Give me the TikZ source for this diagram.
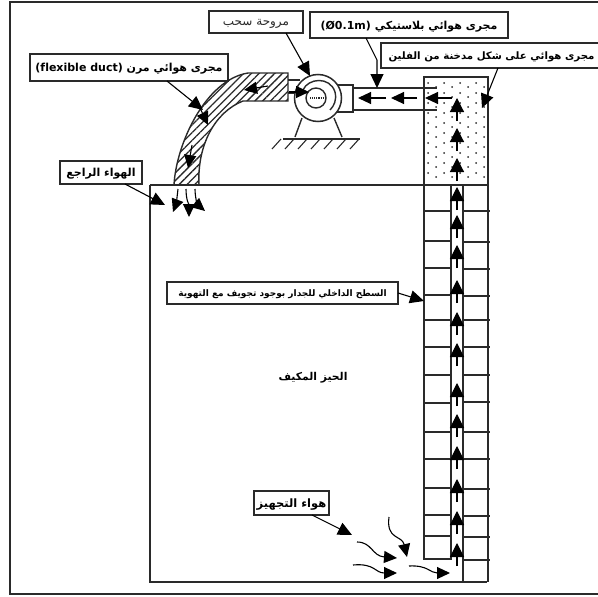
\documentclass[tikz,border=0pt]{standalone}
\usepackage{fontspec}
\setmainfont{Liberation Sans}
\newfontfamily\arabicfont[Script=Arabic]{DejaVu Sans}
\TeXXeTstate=1
\usetikzlibrary{arrows.meta, patterns.meta, positioning}
\definecolor{inkgray}{HTML}{2A2A2A}

\begin{document}
\begin{tikzpicture}[
    x=1pt,
    y=-1pt,
    wall/.style={draw=inkgray, line width=1.4pt},
    tick/.style={draw=inkgray, line width=1.1pt},
    labelbox/.style={rectangle, draw=inkgray, fill=white, line width=1.5pt, inner sep=0pt, align=center, text=black, text depth=0pt},
    pointer/.style={-{Triangle[length=14pt,width=13pt]}, line width=1.1pt, draw=black},
    flow/.style={-{Triangle[length=14pt,width=14pt]}, line width=1.2pt, draw=black},
    flowsmall/.style={-{Triangle[length=13pt,width=12pt]}, line width=1.1pt, draw=black}
]
\useasboundingbox (0,0) rectangle (598,597);
\node[rectangle, draw=inkgray, line width=1.6pt, minimum width=592pt, minimum height=592pt, inner sep=0pt] (frame) at (306,298) {};

% flexible duct and room
\draw[wall, pattern={Lines[angle=45, distance=5.5pt, line width=1.3pt]}, pattern color=inkgray]
    (174,185) .. controls (176,145) and (205,80) .. (248,73) -- (288,73) -- (288,101) -- (243,101)
    .. controls (215,112) and (197,145) .. (199,185) -- cycle;
\draw[wall] (150,185) -- (424,185);
\draw[wall] (150,185) -- (150,582) -- (487,582);

% foam chimney
\node[rectangle, draw=inkgray, line width=1.4pt, minimum width=64pt, minimum height=108pt, inner sep=0pt] (foam) at (456,131) {};
\foreach \col in {0,...,7} {
    \foreach \row in {0,...,9} {
        \fill[inkgray] ({428+\col*8}, {83+\row*10+mod(\col,2)*4}) circle (1pt);
    }
}

% wall layers
\draw[wall] (424,185) -- (424,559) -- (451,559) -- (451,185);
\draw[wall] (463,185) -- (463,582);
\draw[wall] (488,185) -- (488,582);
\foreach \yy in {211,241,268,295,320,347,375,403,432,459,488,515,536} {
    \draw[tick] (423,\yy) -- (451,\yy);
}
\foreach \yy in {211,242,269,296,320,347,375,402,432,459,489,516,537,560} {
    \draw[tick] (463,\yy) -- (490,\yy);
}

% fan
\draw[wall] (288,80) -- (300,80);
\draw[wall] (288,93) -- (300,93);
\draw[wall] (318,85) -- (353,85) -- (353,112) -- (318,112);
\draw[wall] (353,88) -- (437,88);
\draw[wall] (353,110) -- (437,110);
\node[circle, draw=inkgray, fill=white, line width=1.5pt, minimum size=47pt, inner sep=0pt] (fan) at (318,98) {};
\node[circle, draw=inkgray, line width=1.4pt, minimum size=20pt, inner sep=0pt] (hub) at (316,98) {};
\draw[wall] (303,90) .. controls (308,78) and (330,76) .. (335,92) .. controls (337,100) and (334,106) .. (330,110);
\draw[tick, densely dotted] (310,98) -- (325,98);
\draw[wall] (302,118) -- (295,137);
\draw[wall] (334,118) -- (342,137);
\draw[wall] (283,139) -- (360,139);
\foreach \xx in {272,285,...,350} {
    \draw[tick] (\xx+9,139) -- (\xx,149);
}

% air flow in the cavity
\coordinate (inletin) at (289,92);
\coordinate (inletout) at (309,92);
\draw[flowsmall] (inletin) -- (inletout);
\foreach \tip/\tail in {358/386, 391/417, 425/452} {
    \coordinate (ductin\tip) at (\tail,98);
    \coordinate (ductout\tip) at (\tip,98);
    \draw[flowsmall] (ductin\tip) -- (ductout\tip);
}
\foreach \yy in {98,128,158,187,215,245,280,312,343,383,414,446,479,511,543} {
    \coordinate (riseto\yy) at (457,\yy);
    \coordinate (risefrom\yy) at (457,\yy+23);
    \draw[flow] (risefrom\yy) -- (riseto\yy);
}

% air flow in flexible duct
\coordinate (flexa) at (268,86);
\coordinate (flexb) at (244,90);
\draw[flowsmall] (flexa) -- (flexb);
\coordinate (flexc) at (200,108);
\coordinate (flexd) at (208,125);
\draw[flowsmall] (flexc) -- (flexd);
\coordinate (flexe) at (192,145);
\coordinate (flexf) at (188,168);
\draw[flowsmall] (flexe) -- (flexf);

% return air
\coordinate (backa) at (178,189);
\coordinate (backb) at (173,212);
\coordinate (backc) at (186,189);
\coordinate (backd) at (189,217);
\coordinate (backe) at (195,189);
\coordinate (backf) at (205,211);
\draw[flowsmall] (backa) .. controls (177,198) and (176,204) .. (backb);
\draw[flowsmall] (backc) .. controls (186,200) and (189,205) .. (backd);
\draw[flowsmall] (backe) .. controls (195,198) and (198,205) .. (backf);

% supply air
\coordinate (supa) at (357,542);
\coordinate (supb) at (397,558);
\coordinate (supc) at (353,565);
\coordinate (supd) at (397,573);
\coordinate (supe) at (389,517);
\coordinate (supf) at (407,557);
\coordinate (supg) at (409,566);
\coordinate (suph) at (450,573);
\draw[flowsmall] (supa) .. controls (372,542) and (372,556) .. (supb);
\draw[flowsmall] (supc) .. controls (375,563) and (375,573) .. (supd);
\draw[flowsmall] (supe) .. controls (386,540) and (402,535) .. (supf);
\draw[flowsmall] (supg) .. controls (428,565) and (430,573) .. (suph);

% labels
\node[labelbox, minimum width=94pt, minimum height=22pt] (fanlabel) at (256,22)
    {\color{inkgray}\arabicfont\fontsize{12}{14}\selectfont\beginR مروحة سحب\endR};
\node[labelbox, minimum width=198pt, minimum height=26pt] (plasticlabel) at (409,25)
    {\arabicfont\bfseries\fontsize{11}{13}\selectfont\beginR مجرى هوائي بلاستيكي \beginL(Ø0.1m)\endL\endR};
\node[labelbox, minimum width=221pt, minimum height=25pt] (foamlabel) at (491.5,55.5)
    {\arabicfont\bfseries\fontsize{10.2}{12}\selectfont\beginR مجرى هوائي على شكل مدخنة من الفلين\endR};
\node[labelbox, minimum width=198pt, minimum height=27pt] (flexlabel) at (129,67.5)
    {\arabicfont\bfseries\fontsize{11}{13}\selectfont\beginR مجرى هوائي مرن \beginL(flexible duct)\endL\endR};
\node[labelbox, minimum width=82pt, minimum height=23pt] (returnlabel) at (101,172.5)
    {\arabicfont\bfseries\fontsize{11}{13}\selectfont\beginR الهواء الراجع\endR};
\node[labelbox, minimum width=231pt, minimum height=22pt] (surfacelabel) at (282.5,293)
    {\arabicfont\bfseries\fontsize{9}{11}\selectfont\beginR السطح الداخلي للجدار بوجود تجويف مع التهوية\endR};
\node[inner sep=0pt, text=black, text depth=0pt] (roomlabel) at (313,376)
    {\arabicfont\bfseries\fontsize{10.8}{13}\selectfont\beginR الحيز المكيف\endR};
\node[labelbox, minimum width=75pt, minimum height=24pt] (supplylabel) at (291.5,503)
    {\arabicfont\bfseries\fontsize{11.5}{13}\selectfont\beginR هواء التجهيز\endR};

% pointers
\coordinate (fantip) at (310,76);
\coordinate (plasticbend) at (377,60);
\coordinate (plastictip) at (377,88);
\coordinate (foamtail) at (498,68);
\coordinate (foamtip) at (482,108);
\coordinate (flextail) at (167,81);
\coordinate (flextip) at (203,110);
\coordinate (returntail) at (125,184);
\coordinate (returntip) at (165,205);
\coordinate (surfacetip) at (424,301);
\coordinate (supplytail) at (312,515);
\coordinate (supplytip) at (352,535);
\coordinate (fantail) at (286,33);
\coordinate (plastictail) at (366,38);
\coordinate (surfacetail) at (398,293);
\draw[pointer] (fantail) -- (fantip);
\draw[pointer] (plastictail) -- (plasticbend) -- (plastictip);
\draw[pointer] (foamtail) -- (foamtip);
\draw[pointer] (flextail) -- (flextip);
\draw[pointer] (returntail) -- (returntip);
\draw[pointer] (surfacetail) -- (surfacetip);
\draw[pointer] (supplytail) -- (supplytip);
\end{tikzpicture}
\end{document}
